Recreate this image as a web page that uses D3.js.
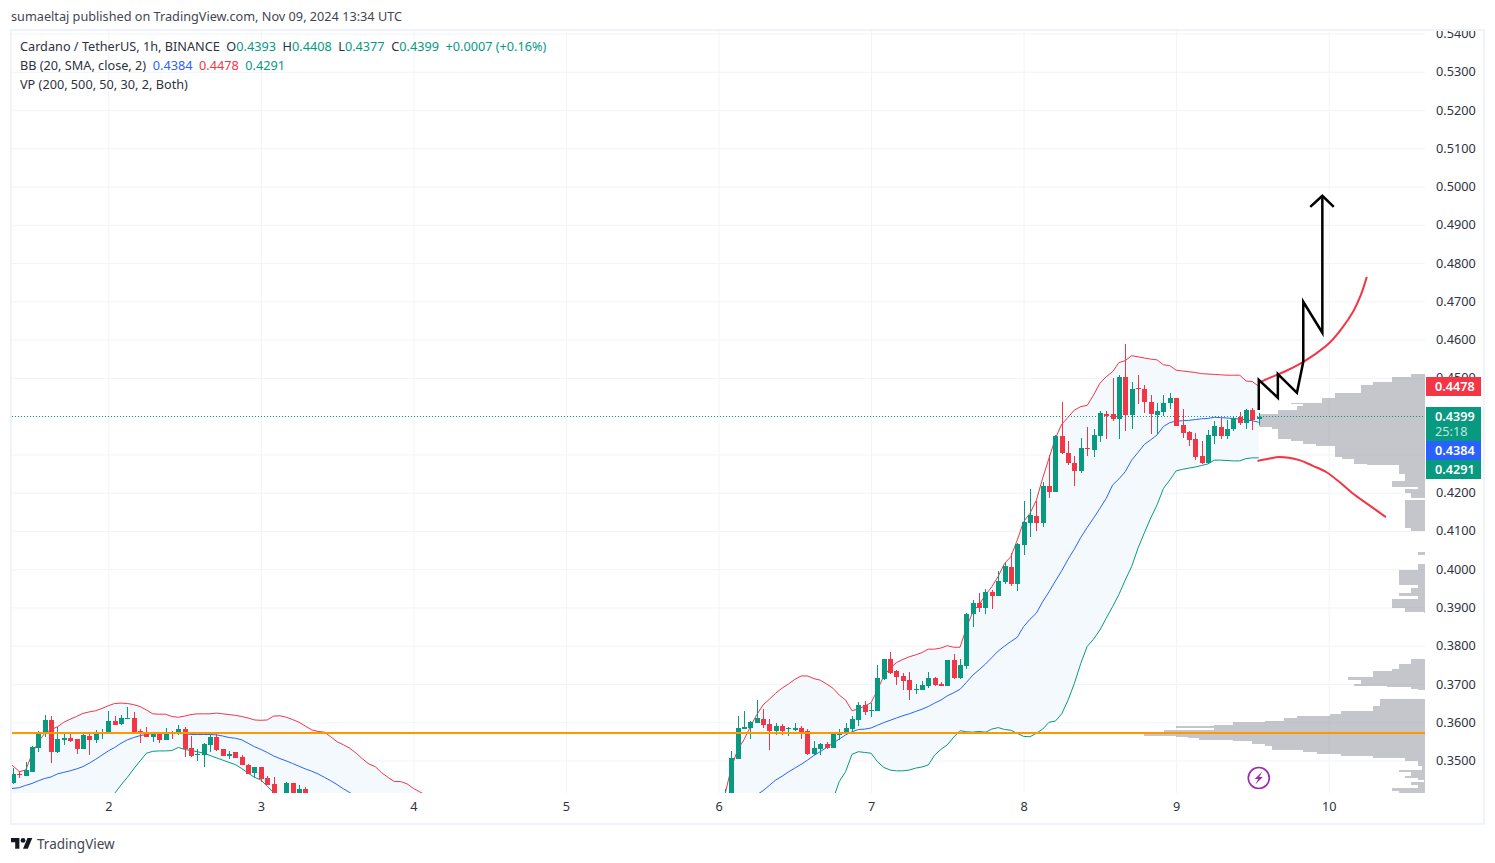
<!DOCTYPE html>
<html>
<head>
<meta charset="utf-8">
<title>ADA / USDT 1h</title>
<script src="https://cdn.jsdelivr.net/npm/d3@7"></script>
<style>
  html, body { margin: 0; padding: 0; background: #fff; }
  svg { display: block; }
  text { font-family: "Noto Sans", sans-serif; }
</style>
</head>
<body>
<svg id="chart" width="1495" height="863"></svg>
<script>
// hours are counted from Nov 2 00:00
const dayLabels = ['2', '3', '4', '5', '6', '7', '8', '9', '10'];
const dayHours = [0, 24, 48, 72, 96, 120, 144, 168, 192];
const priceTicks = [0.35, 0.36, 0.37, 0.38, 0.39, 0.40, 0.41, 0.42, 0.43, 0.44, 0.45, 0.46, 0.47, 0.48, 0.49, 0.50, 0.51, 0.52, 0.53, 0.54];
// 0.43 and 0.44 sit fully under the price badges, so they get no label
const priceLabels = [0.35, 0.36, 0.37, 0.38, 0.39, 0.40, 0.41, 0.42, 0.45, 0.46, 0.47, 0.48, 0.49, 0.50, 0.51, 0.52, 0.53, 0.54];

// candles before the gap, one per hour from -15 to 31
const opens1 = [.3440,.3465,.3460,.3471,.3532,.3571,.3606,.3521,.3554,.3559,.3555,.3530,.3564,.3554,.3572,
  .3572,.3603,.3595,.3609,.3611,.3576,.3574,.3562,.3570,.3554,.3573,.3568,.3582,.3533,.3514,.3515,.3541,
  .3561,.3529,.3513,.3521,.3509,.3488,.3468,.3483,.3454,.3439,.3405,.3395,.3441,.3400,.3425];
const highs1 = [.3480,.3473,.3497,.3538,.3577,.3619,.3616,.3588,.3574,.3574,.3555,.3574,.3575,.3580,.3583,
  .3629,.3615,.3619,.3641,.3627,.3582,.3587,.3575,.3574,.3584,.3576,.3592,.3588,.3564,.3529,.3547,.3569,
  .3569,.3531,.3524,.3522,.3514,.3491,.3484,.3484,.3459,.3456,.3410,.3443,.3441,.3436,.3430];
const lows1 = [.3438,.3455,.3460,.3469,.3523,.3562,.3494,.3519,.3541,.3549,.3517,.3529,.3514,.3547,.3556,
  .3572,.3593,.3594,.3609,.3574,.3547,.3561,.3549,.3545,.3554,.3555,.3566,.3510,.3510,.3500,.3483,.3523,
  .3526,.3511,.3505,.3507,.3487,.3465,.3455,.3445,.3436,.3397,.3385,.3390,.3395,.3395,.3395];
const closes1 = [.3465,.3463,.3475,.3536,.3575,.3606,.3523,.3556,.3558,.3551,.3530,.3567,.3554,.3571,.3574,
  .3603,.3594,.3611,.3611,.3574,.3572,.3562,.3571,.3554,.3570,.3568,.3582,.3529,.3512,.3517,.3543,.3561,
  .3527,.3512,.3516,.3507,.3488,.3465,.3482,.3451,.3436,.3406,.3390,.3441,.3400,.3425,.3400];

// candles after the gap, one per hour from 97 to 181
const opens2 = [.3350,.3395,.3504,.3582,.3585,.3597,.3609,.3595,.3577,.3590,
  .3582,.3580,.3585,.3577,.3517,.3530,.3543,.3533,.3567,.3572,
  .3582,.3606,.3645,.3630,.3630,.3713,.3765,.3734,.3721,.3710,
  .3683,.3684,.3695,.3716,.3700,.3695,.3763,.3716,.3748,.3883,
  .3912,.3899,.3941,.3930,.3967,.4006,.3961,.4063,.4121,.4139,
  .4121,.4218,.4202,.4348,.4304,.4278,.4257,.4317,.4312,.4348,
  .4406,.4406,.4393,.4502,.4403,.4474,.4471,.4437,.4403,.4411,
  .4434,.4447,.4377,.4359,.4340,.4296,.4278,.4348,.4372,.4348,
  .4367,.4398,.4382,.4416,.4393];
const highs2 = [.3425,.3525,.3615,.3630,.3603,.3658,.3634,.3608,.3597,.3595,
  .3587,.3597,.3590,.3582,.3551,.3545,.3549,.3571,.3582,.3597,
  .3615,.3653,.3656,.3650,.3750,.3765,.3784,.3737,.3728,.3731,
  .3700,.3709,.3731,.3718,.3706,.3763,.3778,.3765,.3885,.3920,
  .3938,.3948,.3946,.3995,.4015,.4042,.4068,.4178,.4210,.4178,
  .4228,.4299,.4350,.4437,.4335,.4296,.4343,.4372,.4366,.4414,
  .4414,.4500,.4508,.4589,.4489,.4508,.4482,.4455,.4434,.4455,
  .4460,.4447,.4419,.4361,.4355,.4335,.4364,.4387,.4395,.4390,
  .4401,.4411,.4419,.4421,.4408];
const lows2 = [.3340,.3390,.3504,.3582,.3557,.3597,.3586,.3528,.3567,.3567,
  .3564,.3577,.3557,.3514,.3514,.3514,.3531,.3533,.3554,.3571,
  .3571,.3590,.3619,.3614,.3630,.3710,.3726,.3697,.3684,.3658,
  .3674,.3684,.3690,.3695,.3695,.3695,.3713,.3713,.3740,.3850,
  .3887,.3883,.3896,.3930,.3961,.3956,.3943,.4037,.4084,.4100,
  .4110,.4187,.4202,.4301,.4272,.4218,.4252,.4296,.4293,.4333,
  .4340,.4387,.4340,.4361,.4366,.4432,.4408,.4353,.4353,.4401,
  .4419,.4374,.4343,.4322,.4285,.4275,.4275,.4327,.4340,.4340,
  .4361,.4377,.4367,.4364,.4377];
const closes2 = [.3395,.3507,.3585,.3587,.3601,.3611,.3593,.3577,.3590,.3577,
  .3584,.3585,.3575,.3517,.3533,.3543,.3533,.3569,.3575,.3585,
  .3609,.3645,.3627,.3632,.3716,.3765,.3729,.3718,.3708,.3684,
  .3687,.3697,.3716,.3697,.3695,.3763,.3716,.3750,.3883,.3912,
  .3899,.3941,.3930,.3969,.4008,.3961,.4066,.4123,.4142,.4121,
  .4218,.4202,.4348,.4303,.4277,.4257,.4317,.4314,.4351,.4408,
  .4401,.4393,.4502,.4403,.4471,.4471,.4437,.4406,.4414,.4434,
  .4447,.4374,.4356,.4338,.4293,.4278,.4351,.4374,.4348,.4367,
  .4395,.4382,.4416,.4390,.4399];

// bollinger bands, hours -16 to 50 and 97 to 181. null = off the bottom of the pane
const upper1 = [.3495,.3486,.3471,.3475,.3517,.3549,.3571,.3581,.3588,.3600,.3608,.3615,.3623,.3627,.3630,.3636,
  .3643,.3649,.3650,.3649,.3646,.3641,.3632,.3622,.3621,.3621,.3615,.3613,.3616,.3620,.3622,.3622,
  .3622,.3624,.3622,.3620,.3618,.3615,.3611,.3606,.3605,.3606,.3616,.3617,.3613,.3607,.3600,.3590,
  .3580,.3576,.3574,.3562,.3549,.3541,.3532,.3519,.3504,.3491,.3484,.3468,.3456,.3445,.3445,.3439,
  .3427,.3418,.3409];
const basis1 = [.3425,.3427,.3429,.3435,.3440,.3447,.3453,.3457,.3465,.3469,.3473,.3478,.3484,.3493,.3503,.3514,
  .3525,.3534,.3545,.3554,.3560,.3565,.3568,.3571,.3573,.3573,.3573,.3572,.3570,.3568,.3568,.3568,
  .3568,.3567,.3564,.3560,.3558,.3554,.3545,.3536,.3529,.3521,.3512,.3505,.3499,.3492,.3485,.3478,
  .3472,.3465,.3456,.3447,.3437,.3426,.3416,.3405,
  null,null,null,null,null,null,null,null,null,null,null];
const lower1 = [null,null,null,null,null,null,null,null,null,null,null,null,null,null,null,null,null,
  .3414,.3436,.3456,.3478,.3499,.3519,.3524,.3525,.3525,.3526,.3534,.3529,.3526,.3523,.3519,
  .3513,.3507,.3501,.3495,.3489,.3479,.3467,.3456,.3449,.3433,.3416,.3401,
  null,null,null,null,null,null,null,null,null,null,null,null,null,null,null,null,null,null,null,null,null,null,null];

const upper2 = [.3410,.3480,.3528,.3554,.3588,.3619,.3645,.3660,.3676,.3689,
  .3700,.3712,.3721,.3721,.3714,.3710,.3700,.3689,.3671,.3658,
  .3630,.3635,.3642,.3651,.3684,.3721,.3741,.3756,.3764,.3771,
  .3776,.3782,.3791,.3791,.3794,.3800,.3796,.3796,.3846,.3889,
  .3907,.3933,.3954,.3981,.4015,.4033,.4076,.4124,.4146,.4180,
  .4238,.4290,.4342,.4379,.4397,.4416,.4425,.4428,.4455,.4486,
  .4503,.4516,.4540,.4545,.4558,.4555,.4552,.4549,.4547,.4534,
  .4532,.4520,.4518,.4516,.4514,.4511,.4510,.4509,.4508,.4507,
  .4507,.4507,.4492,.4490,.4478];
const basis2 = [null,null,null,null,null,.3410,.3421,.3435,.3449,.3459,
  .3470,.3480,.3490,.3501,.3513,.3523,.3534,.3545,.3556,.3567,
  .3575,.3581,.3582,.3585,.3592,.3599,.3605,.3611,.3617,.3622,
  .3628,.3634,.3641,.3650,.3658,.3669,.3677,.3686,.3704,.3723,
  .3737,.3752,.3769,.3786,.3799,.3811,.3822,.3850,.3869,.3885,
  .3915,.3941,.3969,.3996,.4026,.4053,.4083,.4109,.4133,.4159,
  .4185,.4220,.4236,.4255,.4285,.4305,.4326,.4338,.4351,.4373,
  .4383,.4387,.4388,.4389,.4391,.4393,.4394,.4397,.4396,.4395,
  .4394,.4392,.4390,.4388,.4384];
const lower2 = [null,null,null,null,null,null,null,null,null,null,
  null,null,null,null,null,null,null,.3397,.3445,.3471,
  .3516,.3523,.3521,.3519,.3497,.3482,.3475,.3473,.3473,.3475,
  .3480,.3483,.3488,.3514,.3529,.3541,.3561,.3578,.3575,.3574,
  .3576,.3574,.3582,.3586,.3581,.3579,.3571,.3563,.3562,.3571,
  .3582,.3600,.3603,.3622,.3658,.3702,.3754,.3798,.3817,.3841,
  .3872,.3902,.3934,.3972,.4007,.4055,.4095,.4134,.4168,.4211,
  .4233,.4257,.4261,.4264,.4267,.4271,.4275,.4285,.4285,.4284,
  .4283,.4283,.4289,.4291,.4291];

// volume profile rows: edges run top to bottom, row i sits between edge i and i+1
const vpEdges = [.4510,.4501,.4489,.4481,.4460,.4447,.4435,.4431,.4426,.4416,.4406,.4371,.4367,.4340,.4336,.4327,.4323,
  .4293,.4287,.4274,.4271,.4249,.4231,.4216,.4210,.4200,.4187,.4181,.4107,.4100,.4046,.4037,.4014,.3998,.3959,.3950,
  .3939,.3930,.3921,.3898,.3889,.3885,.3765,.3752,.3739,.3734,.3717,.3711,.3700,.3695,.3691,.3686,.3683,.3660,.3642,
  .3629,.3622,.3615,.3612,.3603,.3600,.3593,.3590,.3584,.3580,.3574,.3565,.3561,.3558,.3554,.3550,.3542,.3539,.3527,
  .3523,.3516,.3512,.3507,.3500,.3486,.3475,.3469,.3460,.3455,.3449,.3443,.3436,.3429,.3420,.3400];
const vpVolume = [14,33,52,64,90,103,134,122,128,147,166,153,147,134,122,109,
  90,83,71,58,26,20,33,7,20,14,0,20,14,0,7,0,7,26,7,
  14,26,7,33,20,1,0,14,26,33,52,77,64,71,38,14,7,0,45,
  52,84,95,128,141,160,192,211,249,211,261,281,249,237,226,192,173,160,153,
  122,108,84,52,20,7,3,26,14,20,7,1,14,7,33,26];

// hand drawn projection lines, as [hour, price]
const arrowPath = [[181, .4416], [181, .4495], [184, .4448], [184, .4510], [187, .4461], [188, .4542], [188, .4699], [191, .4618], [191, .4976]];
const arrowHead = [[189.1, .4947], [191, .4976], [192.8, .4947]];
const upperCurve = [[181, .4487], [182.7, .4500], [185, .4516], [187.4, .4536], [189.7, .4560], [192.1, .4591], [194.1, .4630], [195.9, .4675], [197, .4714], [198, .4764]];
const lowerCurve = [[180.8, .4283], [182.7, .4289], [184.2, .4293], [187.4, .4285], [189.5, .4270], [191.6, .4254], [193.6, .4229], [195.7, .4199], [198.3, .4168], [201, .4136]];

const supportPrice = 0.3572;
const lastClose = 0.4399;
const bandFloor = 0.3390;

const GREEN = '#089981';
const RED = '#F23645';
const BLUE = '#2962FF';
const ORANGE = '#FF9800';
const GRID = '#f0f3fa';
const TEXT = '#2e3340';
const FONT_SIZE = '12.7px';

const pane = {left: 12, right: 1425, top: 30, bottom: 793};

const svg = d3.select('#chart');

const x = d3.scaleLinear().domain([0, 192]).range([108.3, 1328.7]);
const y = d3.scaleLinear().domain([0.35, 0.54]).range([760.5, 33.5]);
const vpX = d3.scaleLinear().domain([0, 1]).range([pane.right, pane.right - 1]);

const defs = svg.append('defs');
defs.append('clipPath').attr('id', 'pane')
  .append('rect')
  .attr('x', pane.left).attr('y', pane.top)
  .attr('width', pane.right - pane.left).attr('height', pane.bottom - pane.top);
// the top price label gets cut by the frame
defs.append('clipPath').attr('id', 'priceScale')
  .append('rect')
  .attr('x', pane.right).attr('y', 31)
  .attr('width', 60).attr('height', 770);

// outer frame
svg.append('rect')
  .attr('x', 11).attr('y', 30).attr('width', 1473).attr('height', 794)
  .attr('fill', 'none').attr('stroke', GRID).attr('stroke-width', 2);

// grid and axes, the tick lines double as the grid
const xGrid = svg.append('g')
  .attr('transform', 'translate(0,' + pane.bottom + ')')
  .call(d3.axisBottom(x).tickValues(dayHours).tickSize(-(pane.bottom - pane.top)).tickFormat(''));
xGrid.select('.domain').remove();
xGrid.selectAll('line').attr('stroke', GRID);

const yGrid = svg.append('g')
  .attr('transform', 'translate(' + pane.left + ',0)')
  .call(d3.axisRight(y).tickValues(priceTicks).tickSize(pane.right - pane.left).tickFormat(''));
yGrid.select('.domain').remove();
yGrid.selectAll('line').attr('stroke', GRID);

const xAxis = svg.append('g')
  .attr('transform', 'translate(0,' + pane.bottom + ')')
  .call(d3.axisBottom(x).tickValues(dayHours).tickSize(0).tickPadding(9)
    .tickFormat((d, i) => dayLabels[i]));
xAxis.select('.domain').remove();
xAxis.selectAll('text').attr('fill', TEXT).style('font-size', FONT_SIZE);

const yAxis = svg.append('g').attr('clip-path', 'url(#priceScale)')
  .append('g')
  .attr('transform', 'translate(' + (pane.right + 11) + ',0)')
  .call(d3.axisRight(y).tickValues(priceLabels).tickSize(0).tickPadding(0)
    .tickFormat(d3.format('.4f')));
yAxis.select('.domain').remove();
yAxis.selectAll('text').attr('fill', TEXT).style('font-size', FONT_SIZE);

const plot = svg.append('g').attr('clip-path', 'url(#pane)');

// band sections
const hours1 = d3.range(-16, 51);
const hours2 = d3.range(97, 182);
const bandSections = [
  {hours: hours1, upper: upper1, basis: basis1, lower: lower1},
  {hours: hours2, upper: upper2, basis: basis2, lower: lower2}
];

bandSections.forEach(s => {
  const rows = s.hours.map((h, i) => ({h: h, upper: s.upper[i], basis: s.basis[i], lower: s.lower[i]}));
  plot.append('path')
    .datum(rows)
    .attr('fill', '#f4f9fe')
    .attr('d', d3.area()
      .x(d => x(d.h))
      .y0(d => y(d.lower === null ? bandFloor : d.lower))
      .y1(d => y(d.upper)));
});

// volume profile
plot.append('g').selectAll('rect')
  .data(vpVolume)
  .join('rect')
  .attr('x', d => vpX(d))
  .attr('width', d => vpX(0) - vpX(d))
  .attr('y', (d, i) => y(vpEdges[i]))
  .attr('height', (d, i) => y(vpEdges[i + 1]) - y(vpEdges[i]))
  .attr('fill', 'rgb(149,152,161)')
  .attr('fill-opacity', 0.55)
  .attr('shape-rendering', 'crispEdges');

// band lines go on top of the profile
bandSections.forEach(s => {
  const draw = (values, colour) => {
    plot.append('path')
      .datum(s.hours.map((h, i) => [h, values[i]]))
      .attr('fill', 'none')
      .attr('stroke', colour)
      .attr('stroke-width', 1)
      .attr('d', d3.line()
        .defined(d => d[1] !== null)
        .x(d => x(d[0]))
        .y(d => y(d[1])));
  };
  draw(s.upper, RED);
  draw(s.basis, BLUE);
  draw(s.lower, GREEN);
});

// price lines
plot.append('line')
  .attr('x1', pane.left).attr('x2', pane.right)
  .attr('y1', y(lastClose)).attr('y2', y(lastClose))
  .attr('stroke', GREEN).attr('stroke-width', 1).attr('stroke-dasharray', '1 2');

// candles
const candles = [];
d3.range(-15, 32).forEach((h, i) => candles.push({h: h, o: opens1[i], hi: highs1[i], lo: lows1[i], c: closes1[i]}));
hours2.forEach((h, i) => candles.push({h: h, o: opens2[i], hi: highs2[i], lo: lows2[i], c: closes2[i]}));

const bodyWidth = 5;
const candle = plot.append('g').selectAll('g')
  .data(candles)
  .join('g')
  .attr('shape-rendering', 'crispEdges')
  .attr('fill', d => d.c >= d.o ? GREEN : RED)
  .attr('stroke', d => d.c >= d.o ? GREEN : RED);

candle.append('line')
  .attr('x1', d => Math.round(x(d.h)) + 0.5).attr('x2', d => Math.round(x(d.h)) + 0.5)
  .attr('y1', d => y(d.hi)).attr('y2', d => y(d.lo));

candle.append('rect')
  .attr('stroke', 'none')
  .attr('x', d => Math.round(x(d.h)) + 0.5 - bodyWidth / 2)
  .attr('width', bodyWidth)
  .attr('y', d => y(Math.max(d.o, d.c)))
  .attr('height', d => Math.max(1, Math.abs(y(d.o) - y(d.c))));

// support line sits over the profile and the candles
plot.append('line')
  .attr('x1', pane.left).attr('x2', pane.right)
  .attr('y1', y(supportPrice)).attr('y2', y(supportPrice))
  .attr('stroke', ORANGE).attr('stroke-width', 2);

// projection drawings
const straight = d3.line().x(d => x(d[0])).y(d => y(d[1]));
const smooth = d3.line().x(d => x(d[0])).y(d => y(d[1])).curve(d3.curveCatmullRom);

[upperCurve, lowerCurve].forEach(c => {
  svg.append('path').attr('d', smooth(c))
    .attr('fill', 'none').attr('stroke', RED).attr('stroke-width', 2);
});
[arrowPath, arrowHead].forEach(c => {
  svg.append('path').attr('d', straight(c))
    .attr('fill', 'none').attr('stroke', '#000').attr('stroke-width', 2.5);
});

// lightning mark
const mark = svg.append('g').attr('transform', 'translate(' + x(181) + ',778)');
mark.append('circle').attr('r', 10.5).attr('fill', '#fff').attr('stroke', '#9C27B0').attr('stroke-width', 1.6);
mark.append('path').attr('d', 'M3.5,-6.5 L-4,1 L-0.5,1 L-3.5,6.5 L4,-1 L0.5,-1 Z').attr('fill', '#9C27B0');

// price badges on the axis
const badges = [
  {top: 377, h: 19, colour: RED, label: '0.4478'},
  {top: 407, h: 34, colour: GREEN, label: '0.4399', sub: '25:18'},
  {top: 441, h: 19, colour: BLUE, label: '0.4384'},
  {top: 460, h: 19, colour: GREEN, label: '0.4291'}
];
const badge = svg.append('g').selectAll('g').data(badges).join('g');
badge.append('rect')
  .attr('x', 1426).attr('width', 55)
  .attr('y', d => d.top).attr('height', d => d.h)
  .attr('fill', d => d.colour);
badge.append('text')
  .attr('x', 1435).attr('y', d => d.top + 14)
  .attr('fill', '#fff').style('font-size', FONT_SIZE).style('font-weight', 600)
  .text(d => d.label);
badge.filter(d => d.sub).append('text')
  .attr('x', 1435).attr('y', d => d.top + 29)
  .attr('fill', '#fff').attr('fill-opacity', 0.75).style('font-size', FONT_SIZE)
  .text(d => d.sub);

// header
svg.append('text')
  .attr('x', 11).attr('y', 21)
  .attr('fill', '#434651').style('font-size', FONT_SIZE)
  .text('sumaeltaj published on TradingView.com, Nov 09, 2024 13:34 UTC');

// legend, one row per study
const legendRows = [
  {y: 51, parts: [
    ['Cardano / TetherUS, 1h, BINANCE  O', TEXT], ['0.4393', GREEN],
    ['  H', TEXT], ['0.4408', GREEN],
    ['  L', TEXT], ['0.4377', GREEN],
    ['  C', TEXT], ['0.4399', GREEN],
    ['  +0.0007 (+0.16%)', GREEN]]},
  {y: 70, parts: [
    ['BB (20, SMA, close, 2)  ', TEXT], ['0.4384', BLUE], ['  ', TEXT], ['0.4478', RED], ['  ', TEXT], ['0.4291', GREEN]]},
  {y: 89, parts: [['VP (200, 500, 50, 30, 2, Both)', TEXT]]}
];
legendRows.forEach(r => {
  const t = svg.append('text').attr('x', 20).attr('y', r.y)
    .attr('xml:space', 'preserve').style('white-space', 'pre').style('font-size', FONT_SIZE);
  r.parts.forEach(p => t.append('tspan').attr('fill', p[1]).text(p[0]));
});

// logo
const logo = svg.append('g').attr('transform', 'translate(11,835.6) scale(0.6)').attr('fill', '#131722');
logo.append('path').attr('d', 'M14 22H7V11H0V4h14v18zM28 22h-8l7.5-18h8L28 22z');
logo.append('circle').attr('cx', 20).attr('cy', 8).attr('r', 4);
svg.append('text')
  .attr('x', 37).attr('y', 849)
  .attr('fill', '#434651').style('font-size', '13.5px')
  .text('TradingView');
</script>
</body>
</html>
